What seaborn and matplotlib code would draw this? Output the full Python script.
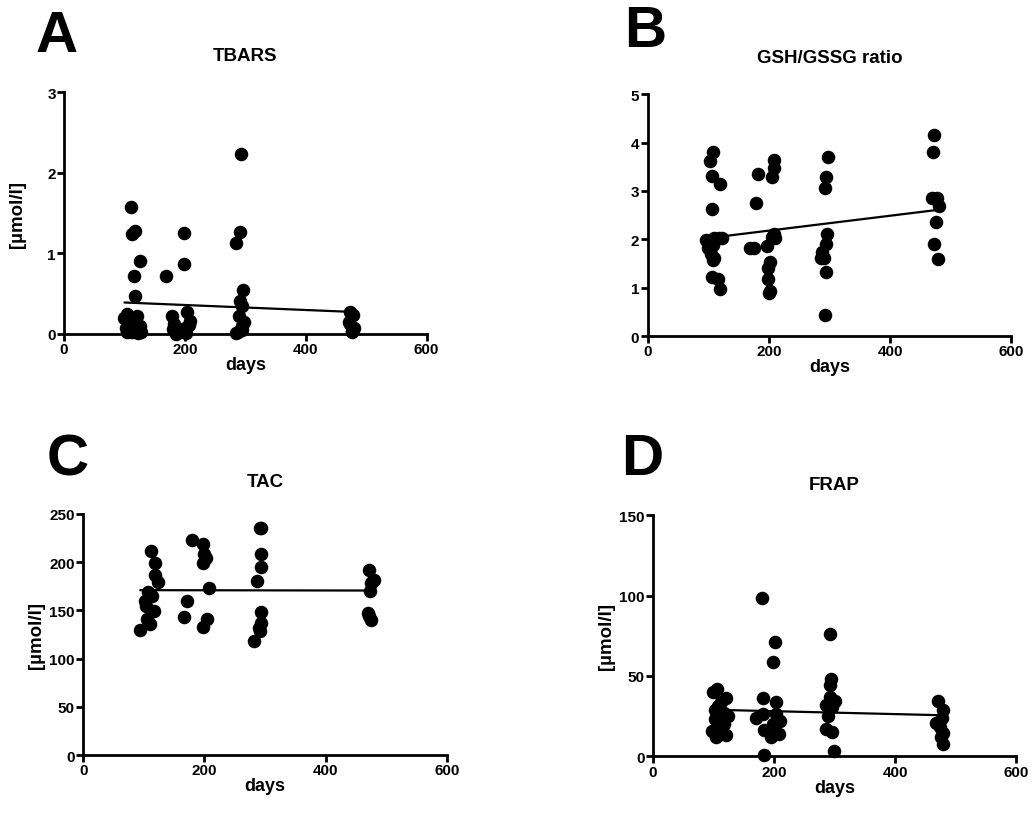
import numpy as np
import pandas as pd
import matplotlib
matplotlib.use("Agg")
import matplotlib.pyplot as plt
import seaborn as sns

sns.set_style("ticks")
plt.rcParams['font.family'] = ['Liberation Sans', 'DejaVu Sans']
plt.rcParams['font.weight'] = 'bold'
for k in ['text.color', 'axes.labelcolor', 'xtick.color', 'ytick.color', 'axes.edgecolor']:
    plt.rcParams[k] = 'black'

# TBARS
tbars_days = [111, 113, 118, 125, 116, 117,
              100, 105, 110, 115, 120, 102, 108, 112, 118, 125, 128, 106,
              104, 114, 122,
              168, 198, 198, 178, 182, 185, 180, 203, 206, 200, 208, 199, 186, 202,
              292, 291, 285, 296, 291, 294, 290, 295, 295, 288, 297, 284,
              473, 478, 471, 479, 476, 474, 477]
tbars_val = [1.58, 1.24, 1.28, 0.90, 0.72, 0.47,
             0.20, 0.25, 0.18, 0.12, 0.22, 0.08, 0.05, 0.02, 0.06, 0.10, 0.03, 0.14,
             0.02, 0.04, 0.01,
             0.72, 1.25, 0.87, 0.22, 0.12, 0.00, 0.06, 0.27, 0.11, 0.08, 0.16, 0.03, 0.04, 0.01,
             2.23, 1.27, 1.13, 0.55, 0.41, 0.35, 0.22, 0.10, 0.05, 0.03, 0.15, 0.01,
             0.27, 0.23, 0.15, 0.08, 0.04, 0.12, 0.02]

# GSH/GSSG ratio
gsh_days = [108, 102, 106, 119, 106,
            96, 100, 103, 108, 110, 113, 118, 122, 105, 110, 107,
            106, 116, 120,
            182, 179, 168, 176, 208, 208, 205, 208, 205, 210, 197, 202, 199, 198, 202, 200,
            297, 295, 293, 296, 295, 288, 286, 291, 294, 292,
            472, 471, 469, 478, 480, 475, 472, 479]
gsh_val = [3.81, 3.61, 3.30, 3.15, 2.62,
           1.98, 1.82, 1.95, 1.88, 2.02, 2.00, 2.03, 2.02, 1.70, 1.62, 1.58,
           1.23, 1.17, 0.98,
           3.34, 2.74, 1.81, 1.81, 3.64, 3.48, 3.29, 2.10, 2.05, 2.03, 1.86, 1.52, 1.41, 1.17, 0.93, 0.88,
           3.69, 3.28, 3.06, 2.10, 1.91, 1.74, 1.62, 1.62, 1.32, 0.43,
           4.15, 3.81, 2.86, 2.86, 2.68, 2.36, 1.91, 1.60]

# TAC
tac_days = [111, 118, 118, 124, 107, 113, 102, 104, 116, 105, 110, 94,
            179, 197, 199, 202, 197, 207, 172, 167, 204, 197,
            292, 294, 293, 294, 287, 294, 294, 290, 292, 282,
            471, 479, 474, 476, 473, 470, 472, 474]
tac_val = [212, 199, 187, 179, 169, 165, 160, 155, 149, 141, 136, 130,
           223, 219, 208, 204, 199, 173, 160, 143, 141, 133,
           235, 235, 208, 195, 180, 148, 137, 132, 129, 118,
           192, 181, 178, 179, 170, 147, 144, 140]

# FRAP
frap_days = [100, 106, 120, 113, 108, 103, 117, 124, 110, 102, 115, 107, 98, 112, 120, 105,
             110, 118, 104,
             180, 202, 199, 182, 203, 170, 182, 204, 210, 183, 208, 183, 198, 195,
             292, 294, 292, 292, 300, 286, 296, 286, 295, 299, 289,
             471, 479, 477, 468, 474, 479, 479, 476]
frap_val = [40, 42, 36, 34, 31, 29, 27, 25, 24, 23, 20, 18, 16, 14, 13, 12,
            18, 20, 23,
            98.5, 71, 58.6, 36.2, 33.7, 24, 26, 26, 22, 16.4, 14, 0.5, 20, 12,
            75.8, 47.8, 44.5, 36.8, 34.7, 31.6, 30.5, 17, 15, 3.5, 25,
            34.3, 28.5, 23.7, 20.6, 18.5, 14.3, 7.7, 12]

panels = [
    ("A", "TBARS", tbars_days, tbars_val, [0, 1, 2, 3], "[µmol/l]", 23),
    ("B", "GSH/GSSG ratio", gsh_days, gsh_val, [0, 1, 2, 3, 4, 5], "", 23),
    ("C", "TAC", tac_days, tac_val, [0, 50, 100, 150, 200, 250], "[µmol/l]", 20),
    ("D", "FRAP", frap_days, frap_val, [0, 50, 100, 150], "[µmol/l]", 19),
]
boxes = [
    [0.062, 0.5915, 0.351, 0.295],
    [0.627, 0.589, 0.352, 0.295],
    [0.0806, 0.078, 0.352, 0.294],
    [0.632, 0.0765, 0.352, 0.294],
]
letter_pos = [(0.034, 0.955), (0.604, 0.961), (0.045, 0.439), (0.601, 0.439)]

fig = plt.figure(figsize=(10.33, 8.2), dpi=100)
for (letter, title, days, vals, yt, ylab, tpad), box, lp in zip(panels, boxes, letter_pos):
    ax = fig.add_axes(box)
    df = pd.DataFrame({"days": days, "val": vals})
    sns.regplot(data=df, x="days", y="val", ax=ax, ci=None, color="black",
                scatter_kws={"s": 95, "alpha": 1, "clip_on": False, "linewidths": 0},
                line_kws={"lw": 1.6})
    ax.set_xlim(0, 600)
    ax.set_ylim(yt[0], yt[-1])
    ax.set_xticks([0, 200, 400, 600])
    ax.set_yticks(yt)
    sns.despine(ax=ax)
    for s in ["left", "bottom"]:
        ax.spines[s].set_linewidth(2)
    ax.tick_params(width=2, length=5, labelsize=11, pad=1)
    for t in ax.get_xticklabels() + ax.get_yticklabels():
        t.set_fontweight("bold")
    ax.set_xlabel("days", fontsize=13, fontweight="bold", labelpad=0)
    ax.set_ylabel(ylab, fontsize=13.5, fontweight="bold")
    ax.yaxis.set_label_coords(-0.104, 0.5)
    ax.set_title(title, fontsize=13.5, fontweight="bold", pad=tpad)
    fig.text(lp[0], lp[1], letter, fontsize=42, fontweight="bold", va="center")

fig.savefig("out.png", dpi=100)
